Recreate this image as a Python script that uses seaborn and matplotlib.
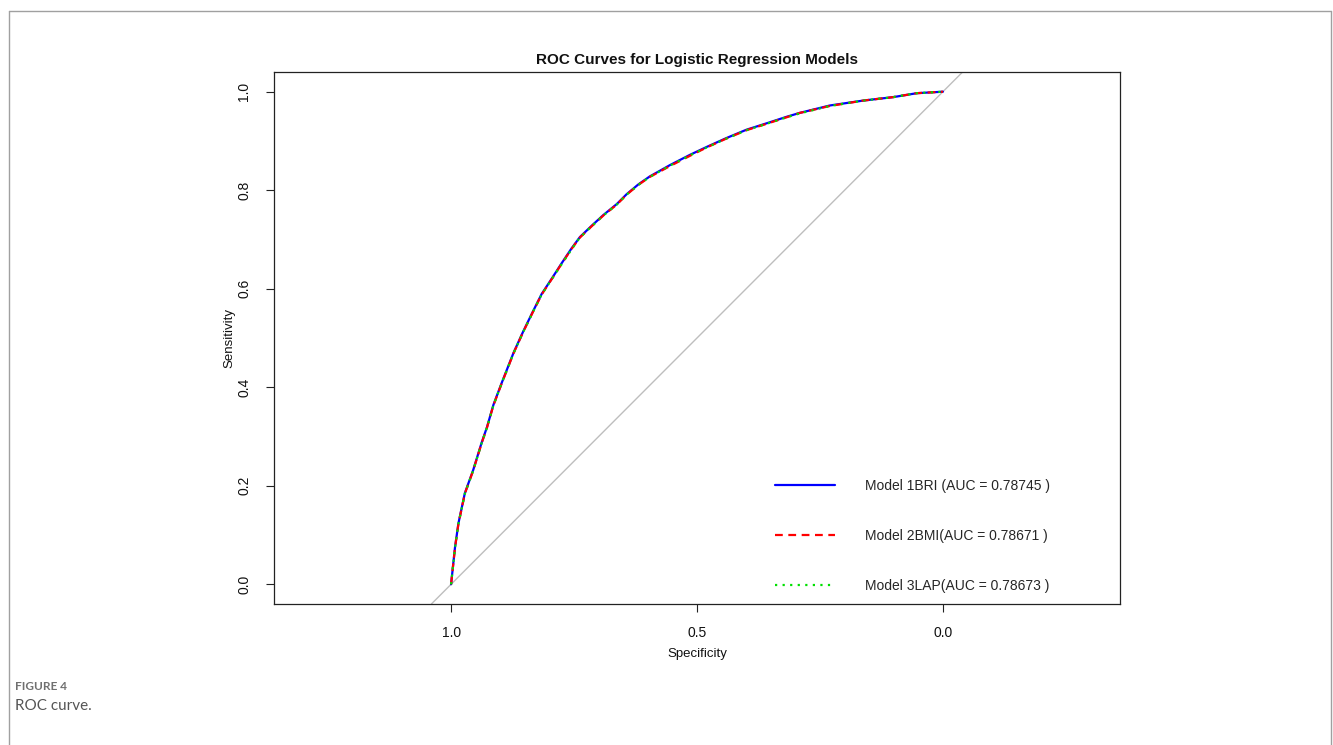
import matplotlib
matplotlib.use("Agg")
import matplotlib.pyplot as plt
from matplotlib.lines import Line2D
import seaborn as sns
import pandas as pd

# ---- data ----
spec_1 = [1.000, 0.992, 0.985, 0.972, 0.955, 0.938, 0.927, 0.914, 0.897, 0.873,
          0.853, 0.833, 0.816, 0.795, 0.775, 0.755, 0.738, 0.714, 0.690, 0.663,
          0.643, 0.619, 0.596, 0.555, 0.514, 0.480, 0.440, 0.399, 0.358, 0.318,
          0.291, 0.230, 0.162, 0.101, 0.053, 0.000]
sens_1 = [0.000, 0.075, 0.124, 0.185, 0.232, 0.287, 0.319, 0.364, 0.409, 0.470,
          0.514, 0.555, 0.589, 0.621, 0.652, 0.682, 0.705, 0.728, 0.750, 0.772,
          0.792, 0.812, 0.828, 0.851, 0.872, 0.888, 0.906, 0.923, 0.936, 0.949,
          0.957, 0.972, 0.982, 0.989, 0.997, 1.000]
spec_2 = [1.000, 0.992, 0.985, 0.972, 0.955, 0.938, 0.927, 0.914, 0.897, 0.873,
          0.853, 0.833, 0.816, 0.795, 0.775, 0.755, 0.738, 0.714, 0.690, 0.663,
          0.643, 0.619, 0.596, 0.555, 0.514, 0.480, 0.440, 0.399, 0.358, 0.318,
          0.291, 0.230, 0.162, 0.101, 0.053, 0.000]
sens_2 = [0.000, 0.074, 0.123, 0.184, 0.231, 0.286, 0.318, 0.363, 0.408, 0.469,
          0.513, 0.554, 0.588, 0.620, 0.651, 0.681, 0.704, 0.727, 0.749, 0.771,
          0.791, 0.811, 0.827, 0.849, 0.870, 0.887, 0.905, 0.922, 0.935, 0.948,
          0.957, 0.971, 0.982, 0.989, 0.997, 1.000]
spec_3 = [1.000, 0.992, 0.985, 0.972, 0.955, 0.938, 0.927, 0.914, 0.897, 0.873,
          0.853, 0.833, 0.816, 0.795, 0.775, 0.755, 0.738, 0.714, 0.690, 0.663,
          0.643, 0.619, 0.596, 0.555, 0.514, 0.480, 0.440, 0.399, 0.358, 0.318,
          0.291, 0.230, 0.162, 0.101, 0.053, 0.000]
sens_3 = [0.000, 0.074, 0.123, 0.184, 0.231, 0.286, 0.318, 0.363, 0.408, 0.469,
          0.513, 0.554, 0.588, 0.620, 0.650, 0.680, 0.704, 0.727, 0.749, 0.771,
          0.791, 0.811, 0.827, 0.850, 0.871, 0.887, 0.905, 0.922, 0.935, 0.948,
          0.956, 0.971, 0.982, 0.989, 0.997, 1.000]

model_labels = ["Model 1BRI (AUC = 0.78745 )",
                "Model 2BMI(AUC = 0.78671 )",
                "Model 3LAP(AUC = 0.78673 )"]
model_colors = ["#0000ff", "#ff0000", "#00e000"]

x_ticks = [1.0, 0.5, 0.0]
x_tick_labels = ["1.0", "0.5", "0.0"]
y_ticks = [0.0, 0.2, 0.4, 0.6, 0.8, 1.0]
y_tick_labels = ["0.0", "0.2", "0.4", "0.6", "0.8", "1.0"]

title = "ROC Curves for Logistic Regression Models"
x_label = "Specificity"
y_label = "Sensitivity"
caption_head = "FIGURE 4"
caption_text = "ROC curve."

# ---- plotting ----
sns.set_theme(style="white")
plt.rcParams["font.family"] = ["Liberation Sans", "DejaVu Sans"]

W, H = 1333, 745
fig = plt.figure(figsize=(W / 100, H / 100), dpi=100)
fig.patch.set_facecolor("white")

ax = fig.add_axes([274 / W, (H - 604) / H, (1120 - 274) / W, (604 - 72) / H])

# diagonal reference line
ax.axline((1.0, 0.0), (0.0, 1.0), color="#bebebe", lw=1.0, zorder=1)

frames = [
    pd.DataFrame({"spec": spec_1, "sens": sens_1}),
    pd.DataFrame({"spec": spec_2, "sens": sens_2}),
    pd.DataFrame({"spec": spec_3, "sens": sens_3}),
]
styles = [dict(ls="-"), dict(dashes=(3.5, 2.5)), dict(dashes=(1.0, 2.4))]
for df, col, st in zip(frames, model_colors, styles):
    sns.lineplot(data=df, x="spec", y="sens", sort=False, estimator=None,
                 color=col, lw=1.6, ax=ax, zorder=3, **st)

ax.set_xlim(1.36, -0.36)
ax.set_ylim(-0.04, 1.04)
ax.set_xticks(x_ticks)
ax.set_xticklabels(x_tick_labels)
ax.set_yticks(y_ticks)
ax.set_yticklabels(y_tick_labels, rotation=90, va="center")

ax.tick_params(axis="both", which="major", bottom=True, left=True,
               direction="out", length=5.5, width=0.8, color="#222222",
               labelsize=10, labelcolor="#111111")
ax.tick_params(axis="x", pad=10)
ax.tick_params(axis="y", pad=11)

for sp in ax.spines.values():
    sp.set_visible(True)
    sp.set_color("#222222")
    sp.set_linewidth(0.9)

ax.set_xlabel(x_label, fontsize=9.5, color="#111111", labelpad=6)
ax.set_ylabel(y_label, fontsize=9.5, color="#111111", labelpad=1)
ax.set_title(title, fontsize=11, fontweight="bold", color="#111111", pad=5.5)

handles = [
    Line2D([], [], color=model_colors[0], lw=1.6, ls="-"),
    Line2D([], [], color=model_colors[1], lw=1.6, dashes=(3.5, 2.5)),
    Line2D([], [], color=model_colors[2], lw=1.6, dashes=(1.0, 2.4)),
]
ax.legend(handles, model_labels, loc="center left",
          bbox_to_anchor=(775 / W, (H - 536) / H), bbox_transform=fig.transFigure,
          frameon=False, fontsize=10, handlelength=4.3, handletextpad=2.15,
          labelspacing=2.6, borderpad=0, borderaxespad=0)

# outer figure frame (open at the bottom)
fc = "#a0a0a0"
fig.add_artist(Line2D([9 / W, 9 / W], [0, (H - 11) / H], color=fc, lw=1.0,
                      transform=fig.transFigure))
fig.add_artist(Line2D([9 / W, 1331 / W], [(H - 11) / H, (H - 11) / H], color=fc,
                      lw=1.0, transform=fig.transFigure))
fig.add_artist(Line2D([1331 / W, 1331 / W], [0, (H - 11) / H], color=fc, lw=1.0,
                      transform=fig.transFigure))

fig.text(15 / W, (H - 687) / H, caption_head, fontsize=8.5, fontweight="bold",
         color="#707070", va="center", ha="left", family=["Lato", "DejaVu Sans"])
fig.text(15 / W, (H - 706) / H, caption_text, fontsize=11, color="#555555",
         va="center", ha="left", family=["Lato", "DejaVu Sans"])

fig.savefig("out.png", dpi=100, facecolor="white")
